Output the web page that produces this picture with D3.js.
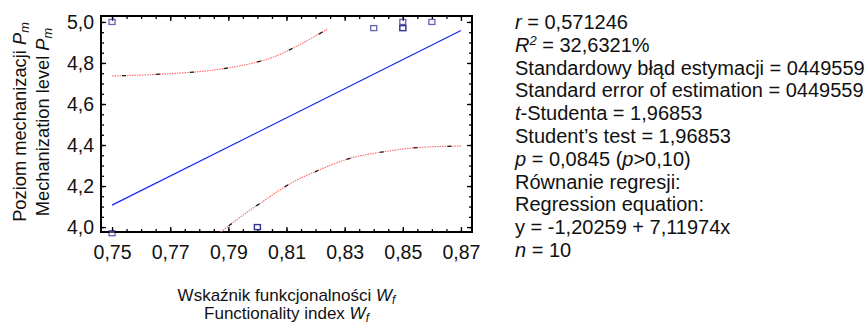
<!DOCTYPE html>
<html>
<head>
<meta charset="utf-8">
<script src="https://cdn.jsdelivr.net/npm/d3@7"></script>
<style>
  body { margin: 0; background: #fff; }
  svg { display: block; font-family: Arial, "Liberation Sans", sans-serif; }
</style>
</head>
<body>
<div class="chart"></div>
<script>
// observed points (duplicates drawn on top of each other -> darker)
const pointsX = [0.75, 0.75, 0.80, 0.80, 0.84, 0.85, 0.85, 0.85, 0.86]
const pointsY = [5.00, 3.97, 4.00, 4.00, 4.97, 5.00, 4.97, 4.97, 5.00]

// fitted line as drawn
const fitX = [0.75, 0.87]
const fitY = [4.107, 4.958]

// confidence curves
const upperX = [0.75, 0.76, 0.77, 0.78, 0.79, 0.80, 0.805, 0.81, 0.815, 0.82, 0.824]
const upperY = [4.737, 4.741, 4.748, 4.758, 4.776, 4.805, 4.826, 4.857, 4.893, 4.932, 4.964]
const lowerX = [0.7874, 0.7975, 0.80, 0.8118, 0.8215, 0.8318, 0.8433, 0.8548, 0.87]
const lowerY = [3.976, 4.083, 4.107, 4.216, 4.280, 4.335, 4.367, 4.387, 4.395]

const xTicks = [0.75, 0.77, 0.79, 0.81, 0.83, 0.85, 0.87]
const yTicks = [4.0, 4.2, 4.4, 4.6, 4.8, 5.0]

const statLines = [
  [["r", true], [" = 0,571246"]],
  [["R", true], ["2", true, "sup"], [" = 32,6321%"]],
  [["Standardowy błąd estymacji = 0449559"]],
  [["Standard error of estimation = 0449559"]],
  [["t", true], ["-Studenta = 1,96853"]],
  [["Student’s test = 1,96853"]],
  [["p", true], [" = 0,0845 ("], ["p", true], [">0,10)"]],
  [["Równanie regresji:"]],
  [["Regression equation:"]],
  [["y = -1,20259 + 7,11974x"]],
  [["n", true], [" = 10"]]
]

const width = 866, height = 328
const pL = 101, pR = 472, pT = 16, pB = 232

const x = d3.scaleLinear().domain([0.7462, 0.8738]).range([pL, pR])
const y = d3.scaleLinear().domain([3.976, 5.029]).range([pB, pT])

const svg = d3.select(".chart").append("svg")
  .attr("width", width)
  .attr("height", height)

const comma = f => v => d3.format(f)(v).replace(".", ",")

// clip for curves
svg.append("clipPath").attr("id", "plot")
  .append("rect").attr("x", pL).attr("y", pT)
  .attr("width", pR - pL).attr("height", pB - pT)

const minorX = d3.range(0.75, 0.8701, 0.005)
const minorY = d3.range(4.0, 5.001, 0.05)

const addAxis = (axis, tr, vals, size, fmt, pad) => {
  const g = svg.append("g").attr("transform", tr)
    .call(axis.tickValues(vals).tickSizeInner(size).tickSizeOuter(0)
      .tickFormat(fmt).tickPadding(pad))
  g.select(".domain").remove()
  g.selectAll("line").attr("stroke", "#000").attr("stroke-width", 1.3)
  g.selectAll("text").attr("font-size", 19.5).attr("fill", "#111")
  return g
}

// bottom / top
addAxis(d3.axisBottom(x), `translate(0,${pB})`, minorX, -3, "", 0)
addAxis(d3.axisBottom(x), `translate(0,${pB})`, xTicks, -5, comma(".2f"), 13)
addAxis(d3.axisTop(x), `translate(0,${pT})`, minorX, -3, "", 0)
addAxis(d3.axisTop(x), `translate(0,${pT})`, xTicks, -5, "", 0)
// left / right
addAxis(d3.axisLeft(y), `translate(${pL},0)`, minorY, -3, "", 0)
addAxis(d3.axisLeft(y), `translate(${pL},0)`, yTicks, -5, comma(".1f"), 7)
addAxis(d3.axisRight(y), `translate(${pR},0)`, minorY, -3, "", 0)
addAxis(d3.axisRight(y), `translate(${pR},0)`, yTicks, -5, "", 0)

svg.append("rect")
  .attr("x", pL).attr("y", pT)
  .attr("width", pR - pL).attr("height", pB - pT)
  .attr("fill", "none").attr("stroke", "#000").attr("stroke-width", 2)

const line = d3.line().x(d => x(d[0])).y(d => y(d[1])).curve(d3.curveMonotoneX)

const band = (xs, ys) => {
  const pts = xs.map((v, i) => [v, ys[i]])
  svg.append("path").datum(pts).attr("d", line)
    .attr("clip-path", "url(#plot)")
    .attr("fill", "none").attr("stroke", "#ff7070").attr("stroke-width", 1.2)
    .attr("stroke-dasharray", "1.5,1")
  svg.append("path").datum(pts).attr("d", line)
    .attr("clip-path", "url(#plot)")
    .attr("fill", "none").attr("stroke", "#222").attr("stroke-width", 1.3)
    .attr("stroke-dasharray", "4,30").attr("stroke-dashoffset", -10)
}
band(upperX, upperY)
band(lowerX, lowerY)

svg.append("path").datum(fitX.map((v, i) => [v, fitY[i]]))
  .attr("d", d3.line().x(d => x(d[0])).y(d => y(d[1])))
  .attr("fill", "none").attr("stroke", "#2020ff").attr("stroke-width", 1.2)

svg.append("g").selectAll("rect")
  .data(pointsX.map((v, i) => [v, pointsY[i]]))
  .join("rect")
  .attr("x", d => x(d[0]) - 3)
  .attr("y", d => y(d[1]) - 2.5)
  .attr("width", 6).attr("height", 5)
  .attr("fill", "#fff").attr("fill-opacity", 0.3)
  .attr("stroke", "#101080").attr("stroke-width", 1.3).attr("stroke-opacity", 0.65)

// axis titles
const title = (sel, main, sub) => {
  sel.append("tspan").text(main)
  sel.append("tspan").attr("font-style", "italic").text(sub[0])
  sel.append("tspan").attr("font-style", "italic").attr("font-size", "0.7em")
    .attr("dy", "0.25em").text(sub[1])
}
const xt1 = svg.append("text").attr("x", (pL + pR) / 2).attr("y", 301)
  .attr("text-anchor", "middle").attr("font-size", 17).attr("fill", "#111")
title(xt1, "Wskaźnik funkcjonalności ", "Wf")
const xt2 = svg.append("text").attr("x", (pL + pR) / 2).attr("y", 319)
  .attr("text-anchor", "middle").attr("font-size", 17).attr("fill", "#111")
title(xt2, "Functionality index ", "Wf")

const yt1 = svg.append("text").attr("transform", `translate(26,122) rotate(-90)`)
  .attr("text-anchor", "middle").attr("font-size", 18.3).attr("fill", "#111")
title(yt1, "Poziom mechanizacji ", "Pm")
const yt2 = svg.append("text").attr("transform", `translate(49,122) rotate(-90)`)
  .attr("text-anchor", "middle").attr("font-size", 18.3).attr("fill", "#111")
title(yt2, "Mechanization level ", "Pm")

// statistics block
const stats = svg.append("g").attr("font-size", 20).attr("fill", "#111")
statLines.forEach((parts, i) => {
  const t = stats.append("text").attr("x", 515).attr("y", 22 + i * 22.8).attr("dy", "0.35em")
  parts.forEach(([s, it, kind]) => {
    const sp = t.append("tspan").text(s)
    if (it) sp.attr("font-style", "italic")
    if (kind === "sup") sp.attr("font-size", "0.65em").attr("dy", "-0.5em")
    else if (i === 1 && s.startsWith(" ")) sp.attr("dy", "0.33em")
  })
})
</script>
</body>
</html>
